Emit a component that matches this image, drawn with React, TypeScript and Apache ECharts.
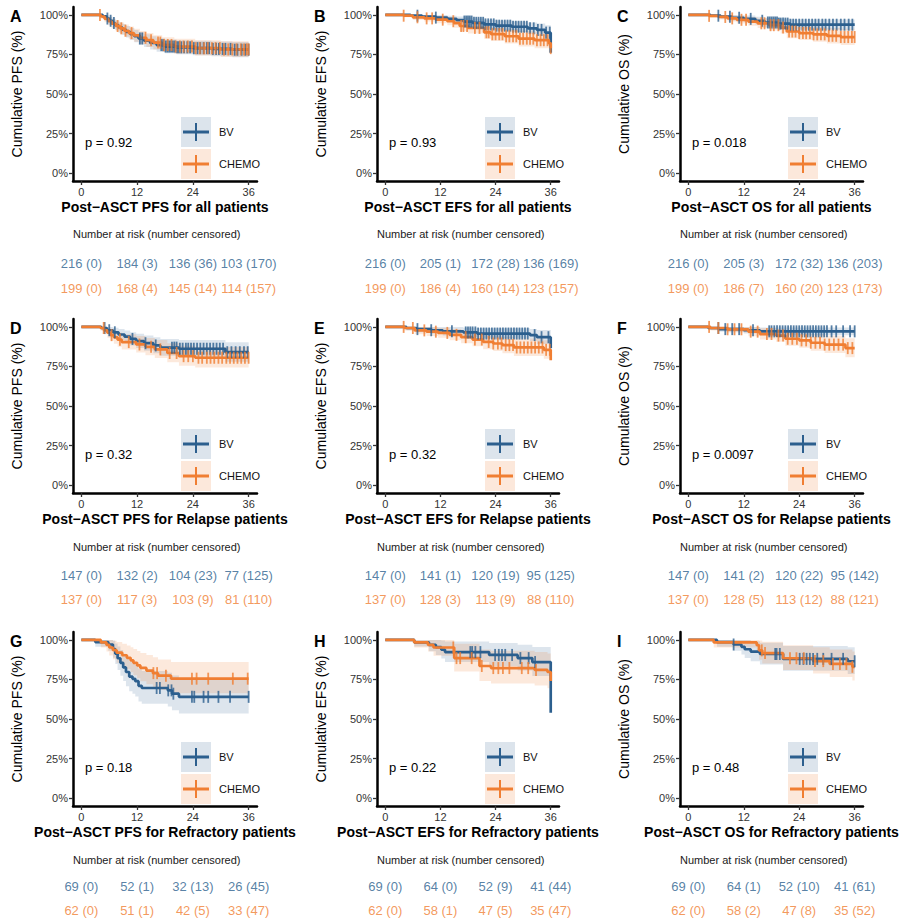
import { useEffect, useRef } from 'react';
import * as echarts from 'echarts';

// Each step: [month, survival, lower 95% CI, upper 95% CI]
type Step = [number, number, number, number];
type Risk = [number, number]; // [number at risk, number censored]

const FONT = '"Liberation Sans", Arial, Helvetica, sans-serif';
const BV_COLOR = '#2C5F8E';
const CHEMO_COLOR = '#F07E32';
const BV_FILL = 'rgba(44,95,142,0.16)';
const CHEMO_FILL = 'rgba(240,126,50,0.17)';

const timeTicks = [0, 12, 24, 36];
const pctTicks = [0, 0.25, 0.5, 0.75, 1];
const groupNames = ['BV', 'CHEMO'];

// ---------- A: PFS, all patients
const pfsAllBV: Step[] = [
  [0, 1, 1, 1], [4.6, .991, .978, 1], [5.4, .977, .957, .997], [6.0, .963, .938, .988],
  [6.7, .949, .921, .977], [7.3, .935, .904, .966], [8.0, .921, .888, .954], [8.8, .907, .873, .942],
  [9.6, .893, .857, .930], [10.5, .879, .842, .917], [11.4, .865, .827, .904], [12.3, .851, .812, .891],
  [13.5, .837, .797, .878], [14.8, .823, .782, .865], [16.2, .809, .767, .852], [18.0, .800, .757, .845],
  [20.5, .795, .751, .840], [24.0, .790, .745, .836], [28.0, .785, .739, .832], [32.5, .780, .733, .829],
  [36, .780, .733, .829],
];
const pfsAllBVCens = [5.6, 6.3, 7.0, 12.6, 13.1, 17.2, 17.6, 18.1, 18.5, 18.9, 19.3, 19.7, 20.1, 20.6, 21.0, 21.5, 22.1, 22.8, 23.4, 24.2, 25.0, 25.6, 26.3, 27.0, 27.5, 28.3, 29.0, 29.6, 30.4, 31.0, 32.1, 33.0, 33.6, 34.5, 35.3, 36.0];
const pfsAllCH: Step[] = [
  [0, 1, 1, 1], [4.2, .990, .976, 1], [5.0, .975, .954, .996], [5.8, .960, .933, .987],
  [6.5, .945, .914, .976], [7.4, .930, .896, .964], [8.3, .915, .879, .952], [9.2, .900, .862, .939],
  [10.2, .885, .846, .926], [11.3, .870, .830, .912], [12.6, .855, .814, .898], [14.0, .840, .797, .885],
  [15.5, .825, .781, .871], [17.4, .810, .765, .858], [20.0, .800, .754, .849], [24.5, .790, .743, .840],
  [30.0, .782, .734, .834], [36, .782, .734, .834],
];
const pfsAllCHCens = [4.0, 7.8, 8.6, 9.5, 10.8, 13.8, 15.0, 16.5, 17.0, 17.8, 18.6, 19.4, 20.3, 21.2, 22.0, 22.9, 23.8, 24.6, 25.5, 26.4, 27.2, 28.1, 28.9, 29.8, 30.7, 31.6, 32.5, 33.4, 34.3, 35.0, 35.6, 36.0];
const pfsAllBVRisk: Risk[] = [[216, 0], [184, 3], [136, 36], [103, 170]];
const pfsAllCHRisk: Risk[] = [[199, 0], [168, 4], [145, 14], [114, 157]];

// ---------- B: EFS, all patients
const efsAllBV: Step[] = [
  [0, 1, 1, 1], [5.5, .995, .986, 1], [8.0, .990, .977, 1], [11.0, .983, .966, 1],
  [13.5, .975, .955, .995], [15.5, .967, .944, .990], [17.0, .958, .933, .983], [19.0, .950, .923, .977],
  [21.5, .940, .911, .970], [24.0, .932, .901, .964], [27.5, .925, .892, .959], [31.0, .915, .879, .952],
  [33.0, .905, .866, .945], [34.8, .888, .843, .934], [36, .760, .680, .860],
];
const efsAllBVCens = [7.0, 11.0, 17.2, 17.6, 18.0, 18.4, 18.8, 19.3, 19.8, 20.3, 20.8, 21.3, 21.8, 22.4, 23.0, 23.6, 24.2, 24.8, 25.4, 26.0, 26.6, 27.2, 27.8, 28.4, 29.0, 29.6, 30.2, 30.8, 31.5, 32.3, 33.2, 34.0, 35.0, 35.8];
const efsAllCH: Step[] = [
  [0, 1, 1, 1], [4.0, .995, .985, 1], [6.0, .985, .968, 1], [8.5, .978, .958, .998],
  [11.0, .970, .947, .993], [13.5, .960, .934, .986], [15.0, .948, .919, .978], [16.2, .930, .897, .964],
  [18.0, .918, .882, .955], [21.5, .890, .849, .932], [23.0, .878, .835, .922], [26.0, .865, .819, .912],
  [29.0, .850, .801, .900], [32.5, .840, .789, .893], [35.6, .820, .763, .880], [36, .790, .720, .865],
];
const efsAllCHCens = [4.0, 7.0, 9.0, 10.2, 12.5, 14.8, 16.5, 17.0, 17.8, 19.5, 20.5, 22.0, 22.5, 23.3, 24.0, 24.8, 25.5, 26.3, 27.0, 27.8, 28.5, 29.3, 30.0, 30.8, 31.5, 32.2, 33.0, 33.8, 34.5, 35.3, 36.0];
const efsAllBVRisk: Risk[] = [[216, 0], [205, 1], [172, 28], [136, 169]];
const efsAllCHRisk: Risk[] = [[199, 0], [186, 4], [160, 14], [123, 157]];

// ---------- C: OS, all patients
const osAllBV: Step[] = [
  [0, 1, 1, 1], [4.8, .995, .985, 1], [7.0, .989, .975, 1], [9.5, .982, .964, 1],
  [12.0, .975, .954, .996], [14.5, .963, .939, .988], [16.5, .952, .925, .980], [19.5, .945, .916, .975],
  [22.0, .938, .906, .971], [36, .938, .906, .971],
];
const osAllBVCens = [6.5, 9.0, 11.0, 13.5, 16.0, 17.2, 17.6, 18.0, 18.4, 18.8, 19.2, 19.6, 20.0, 20.5, 21.0, 21.5, 22.1, 22.7, 23.3, 24.0, 24.7, 25.4, 26.1, 26.8, 27.5, 28.2, 29.0, 29.7, 30.5, 31.3, 32.1, 33.0, 33.8, 34.7, 35.5];
const osAllCH: Step[] = [
  [0, 1, 1, 1], [4.5, .994, .983, 1], [6.5, .987, .971, 1], [8.5, .978, .958, .998],
  [10.5, .969, .946, .992], [13.0, .958, .931, .985], [15.0, .947, .917, .978], [17.5, .935, .902, .969],
  [20.0, .920, .883, .958], [21.3, .895, .853, .939], [24.0, .885, .841, .931], [27.0, .877, .831, .925],
  [30.0, .868, .820, .918], [33.0, .860, .810, .912], [36, .860, .810, .912],
];
const osAllCHCens = [4.5, 8.0, 9.5, 11.5, 12.5, 15.8, 16.5, 17.8, 18.5, 19.5, 20.5, 21.8, 22.5, 23.2, 24.0, 24.8, 25.5, 26.3, 27.1, 27.9, 28.7, 29.5, 30.4, 31.2, 32.0, 33.0, 33.8, 34.6, 35.4, 36.0];
const osAllBVRisk: Risk[] = [[216, 0], [205, 3], [172, 32], [136, 203]];
const osAllCHRisk: Risk[] = [[199, 0], [186, 7], [160, 20], [123, 173]];

// ---------- D: PFS, relapse patients
const pfsRelBV: Step[] = [
  [0, 1, 1, 1], [4.3, .993, .979, 1], [5.5, .979, .956, 1], [6.8, .966, .937, .995],
  [8.0, .952, .918, .986], [9.3, .938, .900, .977], [10.5, .924, .883, .967], [11.8, .910, .866, .956],
  [13.5, .897, .850, .945], [15.5, .883, .834, .934], [17.0, .869, .818, .923], [21.0, .862, .809, .918],
  [31.0, .840, .780, .903], [36, .840, .780, .903],
];
const pfsRelBVCens = [5.0, 6.0, 7.2, 11.0, 13.8, 16.0, 19.5, 20.0, 20.5, 21.2, 21.8, 22.5, 23.0, 23.6, 24.2, 24.9, 25.6, 26.3, 27.0, 27.7, 28.4, 29.1, 29.8, 30.5, 31.4, 32.3, 33.2, 34.1, 35.0, 35.8];
const pfsRelCH: Step[] = [
  [0, 1, 1, 1], [4.1, .993, .978, 1], [4.9, .978, .954, 1], [5.6, .963, .932, .994],
  [6.3, .948, .912, .986], [7.0, .934, .893, .976], [7.8, .919, .875, .965], [8.7, .904, .857, .954],
  [11.8, .889, .839, .942], [13.8, .874, .821, .930], [15.8, .858, .803, .917], [18.5, .835, .777, .897],
  [21.0, .815, .754, .881], [24.5, .805, .743, .873], [36, .805, .743, .873],
];
const pfsRelCHCens = [4.8, 6.5, 8.3, 10.2, 12.5, 15.0, 17.0, 19.0, 20.5, 22.0, 23.0, 24.0, 25.2, 26.0, 27.0, 27.8, 28.6, 29.5, 30.3, 31.2, 32.0, 32.8, 33.6, 34.4, 35.2, 36.0];
const pfsRelBVRisk: Risk[] = [[147, 0], [132, 2], [104, 23], [77, 125]];
const pfsRelCHRisk: Risk[] = [[137, 0], [117, 3], [103, 9], [81, 110]];

// ---------- E: EFS, relapse patients
const efsRelBV: Step[] = [
  [0, 1, 1, 1], [4.6, .993, .979, 1], [6.8, .986, .967, 1], [10.0, .979, .956, 1],
  [12.5, .972, .945, .999], [17.0, .965, .935, .995], [20.0, .958, .926, .991], [31.5, .948, .911, .986],
  [33.0, .935, .892, .980], [36, .865, .790, .945],
];
const efsRelBVCens = [7.0, 10.0, 14.5, 17.5, 18.0, 18.5, 19.0, 19.6, 20.2, 20.8, 21.4, 22.0, 22.6, 23.2, 23.8, 24.4, 25.0, 25.6, 26.2, 26.8, 27.4, 28.0, 28.6, 29.2, 29.8, 30.4, 31.0, 32.5, 34.0, 35.5];
const efsRelCH: Step[] = [
  [0, 1, 1, 1], [4.2, .993, .978, 1], [6.4, .978, .954, 1], [9.0, .970, .942, .998],
  [11.5, .962, .931, .993], [14.0, .950, .915, .986], [16.5, .935, .896, .975], [19.0, .920, .877, .964],
  [21.3, .905, .859, .953], [23.5, .895, .847, .946], [25.5, .885, .834, .938], [28.0, .870, .816, .927],
  [34.5, .855, .798, .916], [36, .790, .700, .880],
];
const efsRelCHCens = [4.0, 6.0, 8.5, 11.0, 13.5, 15.5, 17.5, 19.5, 21.0, 22.5, 23.5, 24.5, 25.3, 26.2, 27.0, 27.8, 28.6, 29.4, 30.2, 31.0, 31.8, 32.6, 33.4, 34.2, 35.0, 35.8];
const efsRelBVRisk: Risk[] = [[147, 0], [141, 1], [120, 19], [95, 125]];
const efsRelCHRisk: Risk[] = [[137, 0], [128, 3], [113, 9], [88, 110]];

// ---------- F: OS, relapse patients
const osRelBV: Step[] = [
  [0, 1, 1, 1], [4.3, .993, .980, 1], [6.6, .986, .969, 1], [12.0, .979, .959, 1],
  [15.5, .972, .948, .997], [36, .972, .948, .997],
];
const osRelBVCens = [6.5, 8.0, 9.5, 11.0, 14.0, 17.5, 18.0, 18.6, 19.2, 19.8, 20.4, 21.0, 21.6, 22.2, 22.8, 23.4, 24.0, 24.6, 25.2, 25.8, 26.4, 27.0, 27.6, 28.2, 28.8, 29.4, 30.0, 31.0, 32.0, 33.5, 35.0, 36.0];
const osRelCH: Step[] = [
  [0, 1, 1, 1], [4.8, .993, .978, 1], [8.5, .985, .964, 1], [13.0, .970, .941, .999],
  [15.5, .955, .920, .991], [19.0, .945, .906, .985], [21.0, .925, .881, .971], [24.0, .915, .868, .964],
  [26.5, .900, .850, .953], [29.5, .888, .835, .944], [34.0, .866, .808, .929], [36, .866, .808, .929],
];
const osRelCHCens = [4.5, 6.5, 8.5, 10.0, 11.5, 13.5, 15.0, 17.0, 18.0, 19.5, 20.5, 21.5, 22.5, 23.5, 24.5, 25.5, 26.5, 27.5, 28.5, 29.5, 30.5, 31.5, 32.5, 33.5, 34.5, 35.5];
const osRelBVRisk: Risk[] = [[147, 0], [141, 2], [120, 22], [95, 142]];
const osRelCHRisk: Risk[] = [[137, 0], [128, 5], [113, 12], [88, 121]];

// ---------- G: PFS, refractory patients
const pfsRefBV: Step[] = [
  [0, 1, 1, 1], [3.0, .986, .957, 1], [5.8, .971, .932, 1], [6.8, .942, .888, .996],
  [7.3, .913, .848, .978], [7.8, .884, .810, .958], [8.4, .855, .774, .936], [9.0, .826, .740, .913],
  [9.6, .797, .707, .889], [10.3, .768, .675, .865], [11.0, .754, .659, .853], [11.6, .739, .643, .841],
  [12.3, .710, .611, .816], [13.0, .696, .596, .804], [18.6, .681, .579, .792], [19.5, .660, .556, .775],
  [21.0, .640, .535, .757], [36, .640, .535, .757],
];
const pfsRefBVCens = [16.2, 16.9, 18.7, 19.4, 19.8, 23.8, 24.3, 26.3, 27.3, 29.5, 32.0, 36.0];
const pfsRefCH: Step[] = [
  [0, 1, 1, 1], [4.2, .984, .952, 1], [5.4, .968, .926, 1], [6.0, .952, .901, 1],
  [6.8, .935, .878, .995], [7.6, .919, .856, .986], [8.8, .903, .835, .976], [9.8, .887, .815, .965],
  [10.6, .871, .795, .954], [11.2, .855, .776, .942], [12.0, .839, .757, .930], [12.7, .823, .739, .917],
  [14.0, .806, .720, .904], [15.4, .790, .702, .890], [16.5, .774, .684, .876], [19.3, .755, .662, .861],
  [36, .755, .662, .861],
];
const pfsRefCHCens = [15.5, 16.3, 18.2, 23.8, 24.8, 27.3, 32.6, 35.8];
const pfsRefBVRisk: Risk[] = [[69, 0], [52, 1], [32, 13], [26, 45]];
const pfsRefCHRisk: Risk[] = [[62, 0], [51, 1], [42, 5], [33, 47]];

// ---------- H: EFS, refractory patients
const efsRefBV: Step[] = [
  [0, 1, 1, 1], [6.3, .985, .958, 1], [9.5, .969, .929, 1], [11.0, .954, .905, 1],
  [12.2, .938, .882, .997], [13.0, .923, .860, .990], [22.6, .905, .835, .980], [28.8, .885, .806, .970],
  [32.0, .860, .772, .955], [36, .540, .470, .750],
];
const efsRefBVCens = [18.5, 18.9, 19.6, 20.7, 23.9, 24.7, 25.4, 26.1, 27.6, 29.4, 31.2, 32.6];
const efsRefCH: Step[] = [
  [0, 1, 1, 1], [6.3, .984, .952, 1], [9.3, .968, .926, 1], [10.5, .952, .900, 1],
  [15.0, .885, .800, .975], [20.5, .835, .740, .940], [23.0, .822, .725, .932], [32.5, .810, .711, .923],
  [35.3, .797, .695, .914], [36, .740, .620, .880],
];
const efsRefCHCens = [14.8, 15.5, 16.3, 18.8, 21.0, 23.5, 24.6, 25.6, 27.0, 29.7, 31.1, 32.8];
const efsRefBVRisk: Risk[] = [[69, 0], [64, 0], [52, 9], [41, 44]];
const efsRefCHRisk: Risk[] = [[62, 0], [58, 1], [47, 5], [35, 47]];

// ---------- I: OS, refractory patients
const osRefBV: Step[] = [
  [0, 1, 1, 1], [6.2, .986, .957, 1], [9.8, .971, .931, 1], [11.5, .956, .908, 1],
  [12.2, .941, .886, .999], [13.5, .926, .865, .991], [15.5, .911, .845, .982], [20.5, .880, .805, .962],
  [34.5, .865, .785, .953], [36, .865, .785, .953],
];
const osRefBVCens = [9.8, 18.8, 19.1, 19.8, 24.1, 24.9, 25.6, 26.3, 27.0, 27.9, 29.2, 31.0, 33.5, 36.0];
const osRefCH: Step[] = [
  [0, 1, 1, 1], [5.5, .984, .952, 1], [14.8, .967, .924, 1], [15.3, .934, .874, .997],
  [16.0, .917, .851, .988], [20.5, .884, .809, .966], [27.0, .866, .787, .953], [30.6, .848, .765, .940],
  [35.5, .830, .743, .927], [36, .830, .743, .927],
];
const osRefCHCens = [15.9, 16.6, 22.0, 23.4, 25.0, 27.4, 29.2, 31.3, 32.8, 34.2, 35.5];
const osRefBVRisk: Risk[] = [[69, 0], [64, 1], [52, 10], [41, 61]];
const osRefCHRisk: Risk[] = [[62, 0], [58, 2], [47, 8], [35, 52]];

interface Panel {
  tag: string; endpoint: string; cohort: string; p: string;
  curves: Step[][]; censored: number[][]; risk: Risk[][];
}

const panels: Panel[] = [
  { tag: 'A', endpoint: 'PFS', cohort: 'all', p: '0.92', curves: [pfsAllBV, pfsAllCH], censored: [pfsAllBVCens, pfsAllCHCens], risk: [pfsAllBVRisk, pfsAllCHRisk] },
  { tag: 'B', endpoint: 'EFS', cohort: 'all', p: '0.93', curves: [efsAllBV, efsAllCH], censored: [efsAllBVCens, efsAllCHCens], risk: [efsAllBVRisk, efsAllCHRisk] },
  { tag: 'C', endpoint: 'OS', cohort: 'all', p: '0.018', curves: [osAllBV, osAllCH], censored: [osAllBVCens, osAllCHCens], risk: [osAllBVRisk, osAllCHRisk] },
  { tag: 'D', endpoint: 'PFS', cohort: 'Relapse', p: '0.32', curves: [pfsRelBV, pfsRelCH], censored: [pfsRelBVCens, pfsRelCHCens], risk: [pfsRelBVRisk, pfsRelCHRisk] },
  { tag: 'E', endpoint: 'EFS', cohort: 'Relapse', p: '0.32', curves: [efsRelBV, efsRelCH], censored: [efsRelBVCens, efsRelCHCens], risk: [efsRelBVRisk, efsRelCHRisk] },
  { tag: 'F', endpoint: 'OS', cohort: 'Relapse', p: '0.0097', curves: [osRelBV, osRelCH], censored: [osRelBVCens, osRelCHCens], risk: [osRelBVRisk, osRelCHRisk] },
  { tag: 'G', endpoint: 'PFS', cohort: 'Refractory', p: '0.18', curves: [pfsRefBV, pfsRefCH], censored: [pfsRefBVCens, pfsRefCHCens], risk: [pfsRefBVRisk, pfsRefCHRisk] },
  { tag: 'H', endpoint: 'EFS', cohort: 'Refractory', p: '0.22', curves: [efsRefBV, efsRefCH], censored: [efsRefBVCens, efsRefCHCens], risk: [efsRefBVRisk, efsRefCHRisk] },
  { tag: 'I', endpoint: 'OS', cohort: 'Refractory', p: '0.48', curves: [osRefBV, osRefCH], censored: [osRefBVCens, osRefCHCens], risk: [osRefBVRisk, osRefCHRisk] },
];

// layout of the 3 x 3 panel grid (pixels)
const COL_LEFT = [73, 377, 680];
const COL_WIDTH = [184, 182, 183];
const ROW_TOP = [7, 319, 632];
const PLOT_H = 174;
const TABLE_HEAD = [227, 228, 228];
const TABLE_BV = [256, 256, 254];
const TABLE_GAP = [25, 24, 24];

const LINE_COLORS = [BV_COLOR, CHEMO_COLOR];
const FILL_COLORS = [BV_FILL, CHEMO_FILL];
const KEY_BG = ['#DCE4EC', '#FCE8DB'];

// Kaplan-Meier estimate in effect at time t
function survAt(curve: Step[], t: number): number {
  let s = 1;
  for (const p of curve) if (p[0] <= t) s = p[1];
  return s;
}

// step-shaped confidence ribbon, drawn once as a single polygon
function bandRenderer(curve: Step[], fill: string) {
  return (params: any, api: any) => {
    if (params.dataIndex !== 0) return null;
    const upper: number[][] = [];
    const lower: number[][] = [];
    curve.forEach((p, k) => {
      const tNext = k + 1 < curve.length ? curve[k + 1][0] : p[0];
      upper.push(api.coord([p[0], p[3]]), api.coord([tNext, p[3]]));
      lower.push(api.coord([p[0], p[2]]), api.coord([tNext, p[2]]));
    });
    return {
      type: 'polygon',
      shape: { points: upper.concat(lower.reverse()) },
      style: { fill },
      silent: true,
    };
  };
}

function buildOption() {
  const grid: any[] = [];
  const xAxis: any[] = [];
  const yAxis: any[] = [];
  const series: any[] = [];
  const graphic: any[] = [];

  panels.forEach((pn, i) => {
    const r = Math.floor(i / 3);
    const c = i % 3;
    const L = COL_LEFT[c];
    const W = COL_WIDTH[c];
    const T = ROW_TOP[r];
    const pi = 2 * i;
    const ti = 2 * i + 1;

    grid.push({ left: L, top: T, width: W, height: PLOT_H, outerBoundsMode: 'none' });
    grid.push({ left: L, top: T + TABLE_BV[r], width: W, height: TABLE_GAP[r], outerBoundsMode: 'none' });

    xAxis.push({
      type: 'value', gridIndex: pi, min: -1.8, max: 37.8,
      name: `Post\u2212ASCT ${pn.endpoint} for ${pn.cohort} patients`,
      nameLocation: 'middle', nameGap: 19,
      nameTextStyle: { fontSize: 14, fontWeight: 'bold', color: '#000', fontFamily: FONT },
      axisLine: { show: true, onZero: false, lineStyle: { color: '#000', width: 2.5 } },
      axisTick: { show: true, length: 4, customValues: timeTicks, lineStyle: { color: '#333', width: 1.3 } },
      axisLabel: { show: true, customValues: timeTicks, margin: 5, fontSize: 11, color: '#333', fontFamily: FONT },
      splitLine: { show: false },
    });
    xAxis.push({ type: 'value', gridIndex: ti, min: -1.8, max: 37.8, show: false });

    yAxis.push({
      type: 'value', gridIndex: pi, min: -0.05, max: 1.05,
      name: `Cumulative ${pn.endpoint} (%)`,
      nameLocation: 'middle', nameGap: 49,
      nameTextStyle: { fontSize: 14, color: '#000', fontFamily: FONT },
      axisLine: { show: true, onZero: false, lineStyle: { color: '#000', width: 2.5 } },
      axisTick: { show: true, length: 4, customValues: pctTicks, lineStyle: { color: '#333', width: 1.3 } },
      axisLabel: {
        show: true, customValues: pctTicks, margin: 5, fontSize: 11, color: '#333', fontFamily: FONT,
        formatter: (v: number) => `${Math.round(v * 100)}%`,
      },
      splitLine: { show: false },
    });
    yAxis.push({ type: 'value', gridIndex: ti, min: 0, max: 1, show: false });

    // confidence ribbons
    pn.curves.forEach((curve, g) => {
      series.push({
        type: 'custom', xAxisIndex: pi, yAxisIndex: pi, silent: true, z: 1,
        data: curve.map((p) => [p[0], p[2], p[3]]),
        encode: { x: 0, y: [1, 2] },
        renderItem: bandRenderer(curve, FILL_COLORS[g]),
      });
    });

    // survival step curves
    pn.curves.forEach((curve, g) => {
      series.push({
        type: 'line', name: groupNames[g], xAxisIndex: pi, yAxisIndex: pi, step: 'end', symbol: 'none',
        data: curve.map((p) => [p[0], p[1]]),
        lineStyle: { color: LINE_COLORS[g], width: 2.7 }, silent: true, z: 2, emphasis: { disabled: true },
      });
    });

    // censoring marks
    pn.censored.forEach((times, g) => {
      series.push({
        type: 'scatter', xAxisIndex: pi, yAxisIndex: pi,
        data: times.map((t) => [t, survAt(pn.curves[g], t)]),
        symbol: 'rect', symbolSize: [1.8, 12],
        itemStyle: { color: LINE_COLORS[g] }, silent: true, z: 3, emphasis: { disabled: true },
      });
    });

    // number-at-risk table
    pn.risk.forEach((rows, g) => {
      series.push({
        type: 'scatter', xAxisIndex: ti, yAxisIndex: ti, symbolSize: 1,
        itemStyle: { color: 'rgba(0,0,0,0)' }, silent: true,
        data: rows.map((rw, k) => ({ value: [timeTicks[k], g === 0 ? 1 : 0], name: `${rw[0]} (${rw[1]})` })),
        label: {
          show: true, position: 'inside', formatter: '{b}', color: LINE_COLORS[g],
          fontSize: 13, fontFamily: FONT, align: 'center', verticalAlign: 'middle',
        },
        emphasis: { disabled: true },
      });
    });

    // panel letter
    graphic.push({
      type: 'text', x: L - 63, y: T + 1,
      style: { text: pn.tag, fontSize: 16, fontWeight: 'bold', fontFamily: FONT, fill: '#000', textVerticalAlign: 'top' },
    });
    // log-rank p value
    graphic.push({
      type: 'text', x: L + 12, y: T + 135,
      style: { text: `p = ${pn.p}`, fontSize: 13, fontFamily: FONT, fill: '#000', textVerticalAlign: 'middle' },
    });
    // legend keys
    [0, 1].forEach((g) => {
      const top = T + 110 + g * 32;
      const cy = top + 15;
      graphic.push({ type: 'rect', shape: { x: L + 108, y: top, width: 30, height: 30 }, style: { fill: KEY_BG[g] } });
      graphic.push({ type: 'line', shape: { x1: L + 110, y1: cy, x2: L + 136, y2: cy }, style: { stroke: LINE_COLORS[g], lineWidth: 3 } });
      graphic.push({ type: 'line', shape: { x1: L + 123, y1: cy - 9, x2: L + 123, y2: cy + 9 }, style: { stroke: LINE_COLORS[g], lineWidth: 2 } });
      graphic.push({
        type: 'text', x: L + 146, y: cy,
        style: { text: groupNames[g], fontSize: 11, fontFamily: FONT, fill: '#111', textVerticalAlign: 'middle' },
      });
    });
    // risk table header
    graphic.push({
      type: 'text', x: L, y: T + TABLE_HEAD[r],
      style: { text: 'Number at risk (number censored)', fontSize: 11, fontFamily: FONT, fill: '#1a1a1a', textVerticalAlign: 'middle' },
    });
  });

  return {
    animation: false,
    backgroundColor: '#fff',
    textStyle: { fontFamily: FONT },
    grid, xAxis, yAxis, series, graphic,
  };
}

export default function App() {
  const ref = useRef<HTMLDivElement>(null);
  useEffect(() => {
    if (!ref.current) return;
    const chart = echarts.init(ref.current, undefined, { renderer: 'svg' });
    chart.setOption(buildOption() as any);
    return () => chart.dispose();
  }, []);
  return <div ref={ref} style={{ position: 'absolute', left: 0, top: 0, width: 900, height: 922 }} />;
}
